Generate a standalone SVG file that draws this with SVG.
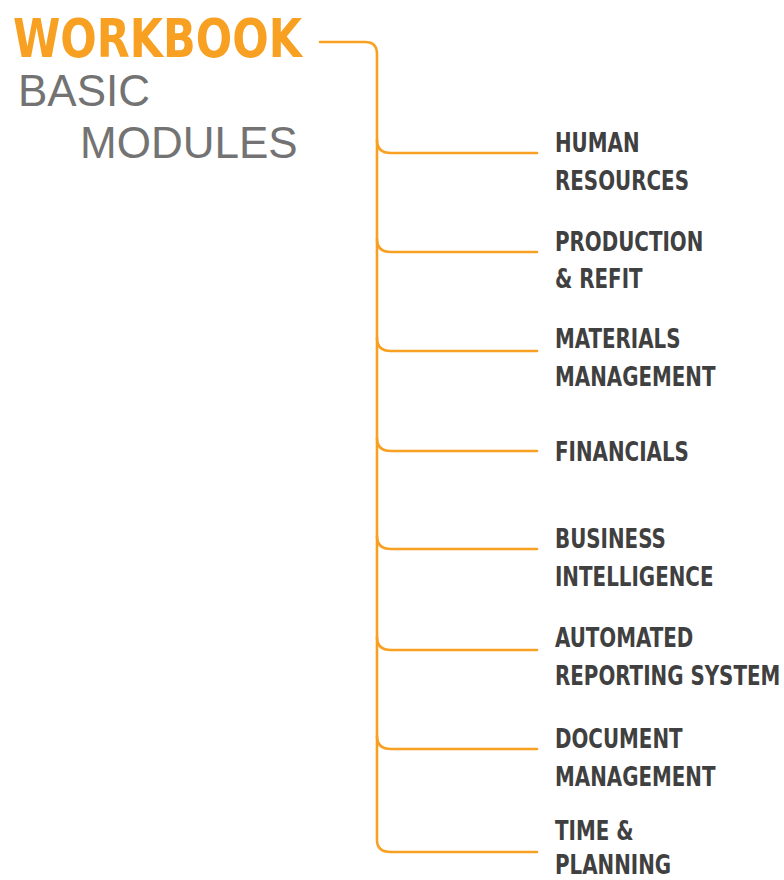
<svg xmlns="http://www.w3.org/2000/svg" width="784" height="880" viewBox="0 0 784 880">
<style>
.title{font-family:"DejaVu Sans Condensed","DejaVu Sans",sans-serif;font-weight:bold;font-size:54px;fill:#F7A021}
.sub{font-family:"Liberation Sans",Arial,sans-serif;font-size:44px;fill:#737373}
.lbl{font-family:"DejaVu Sans Condensed","DejaVu Sans",sans-serif;font-weight:bold;font-size:26px;fill:#404040}
.ln{fill:none;stroke:#F7A021;stroke-width:2.6;stroke-linecap:round}
</style>
<rect width="784" height="880" fill="#fff"/>
<g id="title">
<text class="title" x="13" y="57" textLength="289" lengthAdjust="spacingAndGlyphs">WORKBOOK</text>
<text class="sub" x="18" y="106">BASIC</text>
<text class="sub" x="80" y="158">MODULES</text>
</g>
<g id="connectors">
<path class="ln" d="M320 42 H365 Q377 42 377 54 V840 Q377 852 391 852 H537"/>
<path class="ln" d="M377 140 Q377 153 391 153 H537"/>
<path class="ln" d="M377 239 Q377 252 391 252 H537"/>
<path class="ln" d="M377 338 Q377 351 391 351 H537"/>
<path class="ln" d="M377 438 Q377 451 391 451 H537"/>
<path class="ln" d="M377 536 Q377 549 391 549 H537"/>
<path class="ln" d="M377 637 Q377 650 391 650 H537"/>
<path class="ln" d="M377 736 Q377 749 391 749 H537"/>
</g>
<g id="nodes" transform="matrix(0.85 0 0 1 83.25 0)">
<g id="node-hr"><text class="lbl" x="555" y="152">HUMAN</text><text class="lbl" x="555" y="190">RESOURCES</text></g>
<g id="node-production"><text class="lbl" x="555" y="251">PRODUCTION</text><text class="lbl" x="555" y="288">&amp; REFIT</text></g>
<g id="node-materials"><text class="lbl" x="555" y="348">MATERIALS</text><text class="lbl" x="555" y="386">MANAGEMENT</text></g>
<g id="node-financials"><text class="lbl" x="555" y="461">FINANCIALS</text></g>
<g id="node-bi"><text class="lbl" x="555" y="548">BUSINESS</text><text class="lbl" x="555" y="586">INTELLIGENCE</text></g>
<g id="node-ars"><text class="lbl" x="555" y="647">AUTOMATED</text><text class="lbl" x="555" y="685">REPORTING SYSTEM</text></g>
<g id="node-doc"><text class="lbl" x="555" y="748">DOCUMENT</text><text class="lbl" x="555" y="786">MANAGEMENT</text></g>
<g id="node-time"><text class="lbl" x="555" y="840">TIME &amp;</text><text class="lbl" x="555" y="874">PLANNING</text></g>
</g>
</svg>
